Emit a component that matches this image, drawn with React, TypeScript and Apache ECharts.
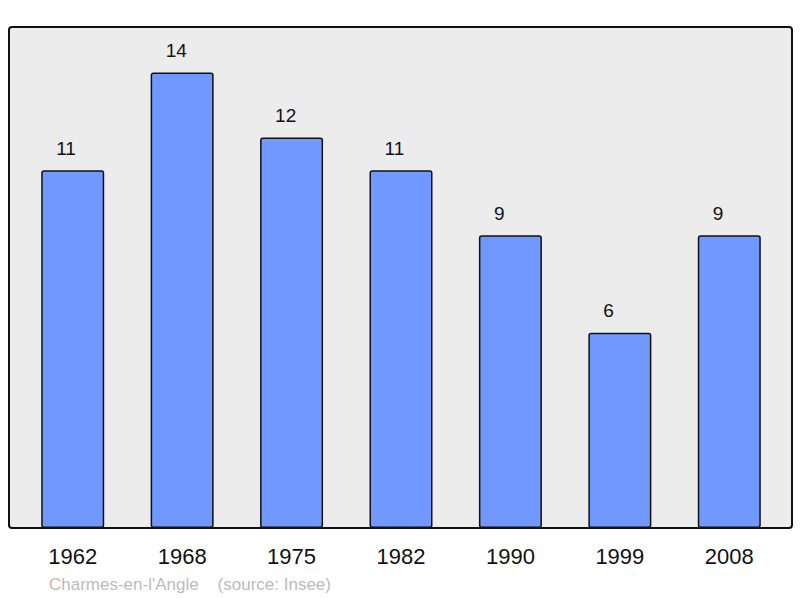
import React, { useEffect, useRef } from "react";
import * as echarts from "echarts";

const years = ["1962", "1968", "1975", "1982", "1990", "1999", "2008"];
const population = [11, 14, 12, 11, 9, 6, 9];
const footerName = "Charmes-en-l'Angle";
const footerSource = "(source: Insee)";

export default function App() {
  const ref = useRef<HTMLDivElement>(null);
  useEffect(() => {
    const chart = echarts.init(ref.current!, null, { renderer: "svg" });
    chart.setOption({
      animation: false,
      backgroundColor: "#ffffff",
      graphic: [
        {
          type: "rect",
          z: -10,
          shape: { x: 9, y: 27, width: 783, height: 501, r: 3 },
          style: { fill: "#ececec", stroke: "#111111", lineWidth: 2 },
        },
        {
          type: "text",
          x: 49,
          y: 584,
          style: {
            text: footerName + "    " + footerSource,
            fill: "#bbbbbb",
            font: "17px 'Liberation Sans', Arial, sans-serif",
            verticalAlign: "middle",
          },
        },
      ],
      grid: { left: 18, right: 16, top: 27, bottom: 70, containLabel: false },
      xAxis: {
        type: "category",
        data: years,
        axisLine: { show: false },
        axisTick: { show: false },
        axisLabel: {
          color: "#111111",
          fontSize: 22,
          fontFamily: "'Liberation Sans', Arial, sans-serif",
          margin: 17,
        },
      },
      yAxis: {
        type: "value",
        min: 0,
        max: 15.4,
        show: false,
        splitLine: { show: false },
      },
      series: [
        {
          type: "bar",
          data: population,
          barWidth: 63,
          itemStyle: {
            color: "#7098ff",
            borderColor: "#111111",
            borderWidth: 1.5,
            borderRadius: 2,
          },
          label: {
            show: true,
            position: [15, -22],
            align: "left",
            verticalAlign: "middle",
            color: "#111111",
            fontSize: 19,
            fontFamily: "'Liberation Sans', Arial, sans-serif",
          },
        },
      ],
    });
    return () => chart.dispose();
  }, []);
  return <div ref={ref} style={{ width: 800, height: 598, position: "fixed", left: 0, top: 0 }} />;
}
